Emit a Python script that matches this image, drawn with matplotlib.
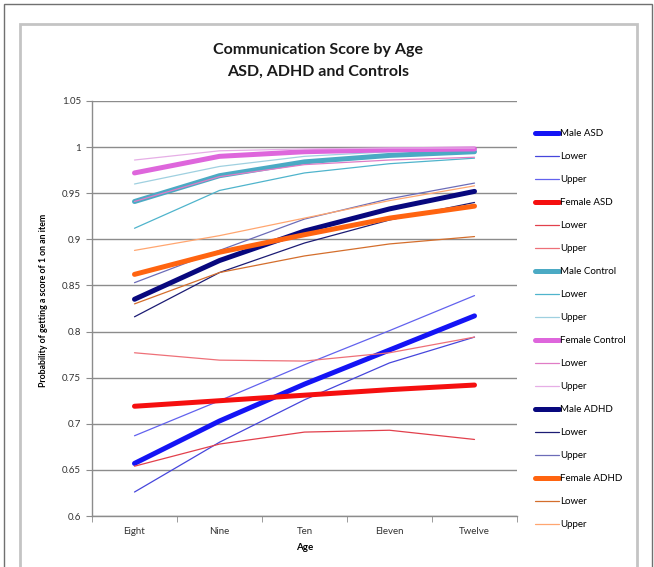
import matplotlib
matplotlib.use("Agg")
import matplotlib.pyplot as plt
from matplotlib.patches import Rectangle

plt.rcParams['font.family'] = ['Lato', 'DejaVu Sans']

ages = ["Eight", "Nine", "Ten", "Eleven", "Twelve"]

male_asd = [0.657, 0.703, 0.743, 0.780, 0.817]
male_asd_lower = [0.626, 0.680, 0.726, 0.766, 0.794]
male_asd_upper = [0.687, 0.725, 0.764, 0.801, 0.839]

female_asd = [0.719, 0.725, 0.731, 0.737, 0.742]
female_asd_lower = [0.654, 0.678, 0.691, 0.693, 0.683]
female_asd_upper = [0.777, 0.769, 0.768, 0.777, 0.794]

male_control = [0.941, 0.969, 0.984, 0.991, 0.995]
male_control_lower = [0.912, 0.953, 0.972, 0.982, 0.988]
male_control_upper = [0.960, 0.979, 0.990, 0.995, 0.997]

female_control = [0.972, 0.990, 0.995, 0.997, 0.998]
female_control_lower = [0.941, 0.968, 0.981, 0.986, 0.989]
female_control_upper = [0.986, 0.996, 0.998, 0.999, 0.999]

male_adhd = [0.835, 0.877, 0.909, 0.933, 0.952]
male_adhd_lower = [0.816, 0.864, 0.896, 0.921, 0.940]
male_adhd_upper = [0.853, 0.888, 0.922, 0.944, 0.961]

female_adhd = [0.862, 0.886, 0.905, 0.923, 0.936]
female_adhd_lower = [0.830, 0.864, 0.882, 0.895, 0.903]
female_adhd_upper = [0.888, 0.904, 0.923, 0.942, 0.958]

y_ticks = [0.6, 0.65, 0.7, 0.75, 0.8, 0.85, 0.9, 0.95, 1.0, 1.05]
y_tick_labels = ["0.6", "0.65", "0.7", "0.75", "0.8", "0.85", "0.9", "0.95", "1", "1.05"]

THICK = 3.6
THIN = 0.9

series = [
    ("Male ASD", male_asd, "#1414f5", THICK),
    ("Lower", male_asd_lower, "#4646dc", THIN),
    ("Upper", male_asd_upper, "#6262ee", THIN),
    ("Female ASD", female_asd, "#f50f0f", THICK),
    ("Lower", female_asd_lower, "#e2404c", THIN),
    ("Upper", female_asd_upper, "#ee7078", THIN),
    ("Male Control", male_control, "#4baac4", THICK),
    ("Lower", male_control_lower, "#4fb4cc", THIN),
    ("Upper", male_control_upper, "#9fd0e0", THIN),
    ("Female Control", female_control, "#de66dc", THICK),
    ("Lower", female_control_lower, "#e07cc6", THIN),
    ("Upper", female_control_upper, "#e6aee6", THIN),
    ("Male ADHD", male_adhd, "#08087e", THICK),
    ("Lower", male_adhd_lower, "#1c1c74", THIN),
    ("Upper", male_adhd_upper, "#6c6cb8", THIN),
    ("Female ADHD", female_adhd, "#ff6410", THICK),
    ("Lower", female_adhd_lower, "#d46e2c", THIN),
    ("Upper", female_adhd_upper, "#ffa670", THIN),
]

W, H = 654, 567
fig = plt.figure(figsize=(W / 100, H / 100), dpi=100)
fig.patch.set_facecolor("white")

# outer and inner frames around the chart
fig.add_artist(Rectangle((4 / W, -0.1), (652 - 4) / W, 1.1 - 4 / H,
                         transform=fig.transFigure, fill=False,
                         edgecolor="#707070", linewidth=1.0))
fig.add_artist(Rectangle((20 / W, -0.1), (637 - 20) / W, 1.1 - 24 / H,
                         transform=fig.transFigure, fill=False,
                         edgecolor="#c4c4c4", linewidth=2.0))

ax = fig.add_axes([92 / W, 1 - 516 / H, (517 - 92) / W, (516 - 101) / H])

x = list(range(len(ages)))
handles = []
for label, vals, color, lw in series:
    (ln,) = ax.plot(x, vals, color=color, linewidth=lw,
                    solid_capstyle="round", solid_joinstyle="round",
                    label=label)
    handles.append(ln)

ax.set_xlim(-0.5, len(ages) - 0.5)
ax.set_ylim(0.6, 1.05)
ax.set_yticks(y_ticks)
ax.set_yticklabels(y_tick_labels)
ax.set_xticks(x)
ax.set_xticklabels(ages)
ax.set_xticks([i - 0.5 for i in range(len(ages) + 1)], minor=True)

ax.tick_params(axis="x", which="major", length=0, pad=8, labelsize=7)
ax.tick_params(axis="x", which="minor", length=4, color="#8c8c8c", direction="out")
ax.tick_params(axis="y", which="major", length=4, color="#8c8c8c", direction="out",
               labelsize=7, pad=4)
for lbl in ax.get_yticklabels() + ax.get_xticklabels():
    lbl.set_color("#333333")

ax.yaxis.grid(True, color="#8c8c8c", linewidth=1.0)
ax.set_axisbelow(True)
for s in ["top", "right"]:
    ax.spines[s].set_visible(False)
for s in ["left", "bottom"]:
    ax.spines[s].set_color("#8c8c8c")
    ax.spines[s].set_linewidth(1.0)

ax.set_xlabel("Age", fontsize=7, fontweight="bold", labelpad=5)
ax.set_ylabel("Probability of getting a score of 1 on an item", fontsize=6.3,
              fontweight="bold")
ax.yaxis.set_label_coords(-0.103, 0.52)

fig.text(318 / W, 1 - 61 / H, "Communication Score by Age\nASD, ADHD and Controls",
         ha="center", va="center", fontsize=11.5, fontweight="bold",
         linespacing=1.7, color="#1a1a1a")

fig.legend(handles=handles, loc="upper left",
           bbox_to_anchor=(535 / W, 1 - 129 / H),
           frameon=False, fontsize=7, handlelength=2.45, handletextpad=0.1,
           labelspacing=1.44, borderpad=0, borderaxespad=0)

fig.savefig("out.png", dpi=100, facecolor="white")
